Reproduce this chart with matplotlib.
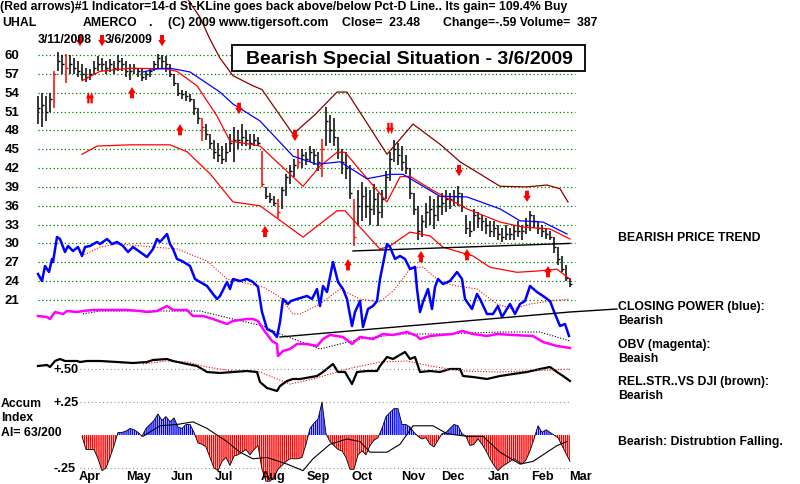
import numpy as np
import matplotlib
matplotlib.use("Agg")
import matplotlib.pyplot as plt
from matplotlib.patches import Rectangle

plt.rcParams["font.family"] = ["Liberation Sans", "DejaVu Sans"]
plt.rcParams["hatch.linewidth"] = 1.0

# ---- UHAL bars, one bar per ~2 trading days (3/11/2008 .. 3/6/2009)
hi = [53.5, 54.0, 53.5, 54.0, 57.5, 60.5, 60.0, 60.2, 60.0, 59.5,
      59.0, 58.5, 58.0, 57.8, 59.0, 59.8, 59.5, 59.0, 59.3, 59.0,
      60.0, 59.5, 59.0, 58.5, 58.5, 58.0, 57.8, 57.5, 58.0, 59.0,
      60.2, 60.0, 59.8, 58.5, 57.0, 55.5, 54.5, 54.3, 53.8, 53.0,
      51.5, 50.0, 49.0, 47.5, 46.5, 46.0, 45.5, 46.0, 47.5, 48.5,
      48.0, 49.0, 48.0, 47.5, 47.5, 47.0, 44.7, 39.0, 38.0, 37.5,
      37.0, 39.0, 41.0, 42.5, 43.5, 45.0, 45.0, 44.5, 45.5, 45.0,
      44.5, 46.6, 51.7, 50.5, 50.0, 47.0, 45.0, 44.5, 42.5, 37.0,
      38.5, 39.8, 39.0, 38.5, 39.5, 38.0, 38.5, 41.5, 44.5, 46.5,
      46.0, 45.5, 44.0, 42.0, 38.0, 36.0, 34.5, 36.5, 37.5, 37.0,
      37.5, 38.0, 38.5, 38.0, 38.5, 39.1, 38.0, 34.5, 33.5, 35.5,
      35.0, 34.5, 34.0, 33.5, 33.5, 33.0, 32.5, 33.0, 32.5, 33.0,
      33.5, 33.0, 34.0, 35.2, 34.5, 33.5, 33.0, 32.5, 32.0, 31.0,
      29.5, 28.0, 26.5, 24.5]
lo = [49.0, 48.5, 49.5, 51.0, 51.5, 57.5, 57.0, 55.5, 57.0, 57.0,
      56.5, 56.0, 55.7, 56.0, 57.0, 57.5, 57.5, 57.0, 57.3, 57.0,
      57.5, 57.5, 56.5, 56.0, 57.0, 56.5, 55.8, 56.0, 56.5, 57.5,
      58.0, 58.0, 57.3, 56.5, 55.0, 53.5, 53.0, 52.7, 52.5, 50.5,
      49.0, 46.3, 46.5, 45.0, 43.5, 43.0, 42.7, 43.0, 44.5, 43.0,
      45.0, 45.5, 45.5, 45.0, 45.5, 45.5, 39.0, 37.0, 36.5, 36.0,
      34.0, 35.5, 37.5, 39.5, 40.5, 42.0, 42.0, 42.5, 43.0, 42.5,
      41.5, 40.6, 45.5, 46.0, 45.5, 43.5, 41.0, 40.3, 37.0, 29.6,
      33.0, 33.5, 34.0, 33.0, 34.5, 32.8, 34.0, 37.0, 40.0, 43.0,
      42.5, 41.5, 41.0, 37.0, 34.5, 30.5, 31.0, 32.5, 33.0, 32.3,
      33.5, 34.5, 35.0, 35.5, 36.0, 36.0, 35.0, 31.5, 31.0, 32.0,
      32.5, 32.0, 31.5, 31.0, 31.0, 30.5, 30.2, 30.5, 30.5, 30.5,
      31.0, 30.5, 31.5, 32.0, 32.5, 31.5, 31.0, 30.7, 30.5, 28.5,
      26.5, 25.5, 24.0, 23.0]
close = [51.5, 52.0, 51.0, 53.0, 57.0, 59.0, 58.5, 58.0, 58.5, 58.0,
         57.5, 57.0, 56.5, 57.0, 58.0, 58.5, 58.5, 58.0, 58.5, 58.0,
         59.0, 58.5, 57.5, 57.5, 58.0, 57.5, 56.5, 57.0, 57.5, 58.5,
         59.5, 59.0, 58.5, 57.0, 55.5, 54.0, 53.8, 53.5, 53.0, 51.5,
         50.0, 48.5, 47.5, 46.0, 44.5, 44.0, 43.5, 44.5, 46.0, 46.5,
         46.5, 47.0, 46.5, 46.0, 46.5, 46.0, 39.5, 37.5, 37.0, 36.5,
         35.0, 38.5, 40.5, 41.5, 42.5, 43.0, 44.0, 43.5, 44.5, 44.0,
         43.0, 45.0, 49.5, 48.0, 47.0, 44.5, 43.0, 42.0, 38.0, 31.0,
         36.0, 37.5, 36.0, 35.5, 37.0, 35.0, 37.0, 40.5, 43.5, 45.0,
         44.0, 43.0, 42.0, 38.0, 35.5, 32.0, 33.5, 35.0, 35.5, 34.5,
         36.0, 36.5, 37.0, 37.0, 37.5, 38.0, 36.0, 32.5, 32.0, 34.5,
         34.0, 33.5, 33.0, 32.0, 32.5, 31.5, 31.0, 31.5, 31.5, 32.0,
         32.0, 32.0, 33.0, 34.5, 33.5, 32.5, 32.0, 31.5, 31.0, 29.5,
         27.5, 26.0, 24.5, 23.48]
red_bars = [4, 7, 41, 56, 60, 65, 71, 79]

# bands: 21-d average (red), lower band (red), upper band (dark red), 50-d average (blue)
ma_x = [11, 15.5, 23, 31.75, 34.75, 39.75, 44.75, 48, 53, 55.5, 66.25, 70.5,
        74.75, 76.75, 87.25, 90.5, 93, 98, 107.25, 115.5, 121.25, 128, 133]
ma = [55.9, 57.4, 57.9, 57.8, 57.4, 55.1, 50.3, 46.3, 45.8, 45.5, 39.1, 42.3,
      44.5, 44.5, 36.6, 40.6, 40.7, 38.7, 35.5, 33.4, 32.6, 32.3, 30.7]
lb_x = [11, 14.75, 23, 33, 37.25, 43, 48.75, 55.5, 66.25, 70.5, 74.75, 76.75,
        85.5, 88, 93, 98, 101.25, 108.75, 113, 119.75, 124.75, 129.75, 133]
lb = [44.2, 45.5, 45.7, 45.7, 44.6, 41.1, 36.6, 36.0, 31.0, 33.1, 35.2, 35.2,
      29.1, 29.6, 31.8, 31.2, 29.4, 28.0, 26.2, 25.4, 25.6, 25.9, 24.3]
ub_x = [36.75, 40.5, 43, 45.5, 48.75, 53.75, 56, 63.75, 69.25, 74.75, 77.25,
        87.25, 93.75, 100.5, 105.5, 115.5, 122.25, 127.25, 130.5, 132.5]
ub = [69.5, 66.0, 62.5, 59.5, 56.7, 55.1, 54.5, 47.4, 50.5, 54.1, 54.1,
      44.2, 49.0, 45.8, 43.0, 39.1, 39.0, 39.3, 38.7, 36.6]
ma50_x = [26.25, 29.75, 33, 38, 45.5, 48.75, 55.5, 63.75, 69.75, 75.5, 82.25,
          88, 91.25, 100.5, 107.25, 115.5, 120.5, 126.25, 132.25]
ma50 = [57.3, 57.8, 57.9, 57.3, 54.1, 52.2, 49.5, 43.9, 42.6, 43.0, 40.3,
        41.0, 41.0, 37.5, 37.4, 35.5, 33.6, 33.4, 31.5]
support_x = [78.75, 133]
support = [28.8, 30.0]
price_levels = [60, 57, 54, 51, 48, 45, 42, 39, 36, 33, 30, 27, 24, 21]

# signal arrows (bar position, price at arrow tip)
up_x = [13, 23.5, 35.5, 56.75, 77.5, 95.75, 107.25, 127.5]
up_tip = [54.1, 54.9, 49.0, 32.8, 27.5, 28.8, 29.1, 26.4]
down_x = [10.5, 16, 31, 50.25, 64.25, 88, 105.25, 122.25]
down_tip = [61.4, 61.4, 61.4, 50.6, 46.3, 47.4, 40.7, 36.6]
double_arrows = [13, 88]

# Closing Power (no scale shown)
cp_x = [0, 1, 1.75, 2.75, 3.5, 3.75, 4.75, 5.5, 6.75, 7.5, 8.75, 10, 11, 11.75,
        13, 14.75, 15.5, 17.25, 18.5, 19.75, 21.25, 22.5, 23.75, 25.5, 27.25,
        28.75, 29.75, 30.5, 32.25, 33, 33.75, 34.75, 36, 38, 39.25, 40.5, 42.25,
        43.75, 44.75, 45.5, 47.25, 48, 48.75, 50.5, 52.25, 53.75, 55, 56, 57.25,
        58.75, 59.75, 60.5, 61.25, 62.5, 63.25, 64.75, 67.25, 68.5, 69.75, 70.5,
        71.25, 72.25, 73.75, 75, 76.25, 77.25, 78.5, 79.25, 80.5, 81.25, 82.5,
        83.75, 84.75, 85.5, 87.25, 88, 89.25, 90.5, 91.75, 93, 94.25, 94.75,
        95.5, 96.25, 97.5, 98.5, 99.25, 100, 101.25, 103, 104.75, 106, 106.75,
        108.5, 109.75, 110.5, 112.25, 113.75, 115, 116, 118, 119.25, 120.5,
        121.75, 123, 124.75, 126.25, 128, 129.25, 130.5, 131.75, 132.75]
cp = [70, 63, 78, 72, 85, 82, 107, 105, 92, 98, 93, 97, 88, 97, 98, 102, 100,
      105, 100, 102, 98, 92, 97, 92, 87, 95, 105, 102, 110, 100, 95, 85, 83,
      78, 65, 62, 58, 50, 45, 48, 62, 55, 65, 63, 65, 62, 57, 32, 15, 12, 7,
      22, 45, 40, 43, 45, 48, 45, 55, 38, 58, 52, 82, 62, 55, 45, 18, 32, 43,
      17, 35, 38, 43, 65, 100, 97, 85, 88, 85, 75, 77, 55, 32, 42, 55, 35, 57,
      65, 60, 63, 72, 65, 45, 35, 50, 45, 30, 30, 38, 27, 40, 30, 40, 43, 58,
      52, 48, 43, 30, 18, 20, 8]
cp_ma_x = [11, 15.5, 19.75, 28.75, 34.75, 42.25, 47.25, 56.25, 60.5, 63.75,
           65.5, 70.5, 75.5, 80.5, 85.5, 89.25, 93, 96.25, 100.5, 104.75,
           109.75, 114.75, 118.75, 123, 128, 133]
cp_ma = [88, 97, 100, 97, 95, 83, 65, 57, 47, 30, 30, 40, 55, 45, 42, 55, 75,
         77, 62, 58, 55, 40, 35, 40, 43, 45]
cp_trend_x = [60.5, 133, 144.75]
cp_trend = [7, 32, 35]

# OBV (no scale shown)
obv_x = [0, 2.25, 3, 4.25, 6.25, 7.25, 9.75, 11.25, 13.75, 18, 22.25, 25.5,
         27.25, 29.75, 32.25, 33.75, 37.25, 38.75, 41.25, 43.75, 47.25, 48.75,
         52.25, 53.75, 55, 56.25, 58.5, 59.75, 60, 61.25, 63, 64.75, 67.25,
         69.75, 71.25, 73, 76.25, 78.5, 80.5, 83.75, 86.25, 88.75, 92.25, 94.75,
         95.5, 98, 100.5, 103.75, 106, 108.75, 112.25, 114.75, 118.75, 123.75,
         126.25, 129.75, 133]
obv = [43, 42, 40, 47, 45, 48, 47, 48, 49, 49, 49, 48, 47, 48, 53, 49, 49, 43,
       43, 40, 35, 38, 40, 40, 38, 30, 18, 15, 3, 8, 10, 15, 15, 13, 20, 24, 22,
       15, 22, 20, 25, 24, 27, 23, 20, 23, 24, 25, 28, 25, 23, 25, 24, 23, 17,
       13, 11]
obv_ma_x = [11.25, 15.5, 40.5, 48.75, 56.25, 60.5, 70.5, 80.5, 90.5, 100.5,
            115.5, 125.5, 133]
obv_ma = [45, 48, 48, 40, 33, 25, 10, 20, 25, 25, 27, 27, 18]

# Relative strength vs DJI (no scale shown)
rs_x = [0, 2.25, 3, 4.25, 5.5, 6.75, 9.75, 10.5, 12.25, 15.5, 19.75, 23.75,
        27.25, 28.75, 32.25, 33.75, 37.25, 39.75, 42.25, 45.5, 48.75, 52.25,
        54.75, 55.5, 57.25, 59.75, 60.5, 62.25, 63.75, 65.5, 69.75, 71.25,
        73.75, 75, 76.75, 78.5, 79.75, 82.25, 84.75, 85.5, 87.25, 88.75, 90,
        91.75, 93, 94.25, 95.5, 98, 100.5, 103, 105.5, 106.25, 108.75, 112.25,
        115.5, 118.75, 122.25, 125.5, 128, 129.75, 131.25, 133]
rs = [33, 34, 32, 38, 40, 38, 38, 37, 38, 38, 37, 36, 37, 39, 40, 38, 35, 33,
      27, 26, 27, 28, 27, 17, 11, 8, 13, 18, 20, 20, 23, 27, 35, 27, 27, 15,
      27, 28, 28, 33, 42, 40, 43, 47, 40, 42, 27, 28, 27, 30, 30, 23, 22, 20,
      23, 25, 27, 30, 32, 27, 23, 18]
rs_ma_x = [26.25, 32.25, 37.25, 42.25, 48.75, 55.5, 59.75, 63, 68.75, 77.25,
           85.5, 92.25, 98, 106.25, 114.75, 123, 133]
rs_ma = [35, 38, 37, 32, 28, 27, 20, 15, 20, 30, 37, 38, 33, 28, 27, 28, 30]

# Accumulation Index
ai_start = 11
ai = [-0.01, -0.11, -0.11, -0.11, -0.18, -0.27, -0.25, -0.17, -0.08, 0.02,
      0.02, 0.03, 0.05, 0.04, 0.02, -0.01, 0.05, 0.08, 0.11, 0.16,
      0.11, 0.14, 0.10, 0.13, 0.06, 0.05, 0.08, 0.08, 0.02, -0.06,
      -0.07, -0.09, -0.17, -0.25, -0.27, -0.20, -0.17, -0.23, -0.16, -0.15,
      -0.13, -0.11, -0.15, -0.11, -0.08, -0.26, -0.35, -0.35, -0.32, -0.26,
      -0.23, -0.20, -0.18, -0.18, -0.18, -0.17, -0.07, 0.05, 0.09, 0.12,
      0.25, 0.01, -0.05, -0.08, -0.11, -0.12, -0.17, -0.26, -0.26, -0.15,
      -0.12, -0.15, -0.08, -0.04, -0.02, 0.05, 0.14, 0.17, 0.20, 0.20,
      0.08, 0.08, 0.06, 0.02, -0.01, -0.03, -0.02, -0.07, -0.09, -0.04,
      0.01, 0.02, 0.05, 0.08, 0.07, 0.01, -0.01, -0.08, -0.07, -0.03,
      -0.07, -0.12, -0.18, -0.23, -0.27, -0.24, -0.22, -0.20, -0.18, -0.20,
      -0.22, -0.19, -0.12, -0.03, 0.07, 0.02, 0.04, 0.02, 0.00, -0.02,
      -0.08, -0.14, -0.20]
ai_ma_x = [26.25, 30.5, 34.75, 38.75, 42.25, 47.25, 50.5, 53.75, 57.25, 62.25,
           66.25, 68.75, 73, 77.25, 80.5, 83, 87.25, 90.5, 93.75, 98.75,
           102.25, 107.25, 111.25, 115.5, 120.5, 123.75, 127.25, 129.75, 132.25]
ai_ma = [-0.01, 0.07, 0.08, 0.10, 0.05, -0.05, -0.13, -0.18, -0.17, -0.22,
         -0.27, -0.18, -0.07, -0.03, -0.05, -0.13, -0.13, -0.07, 0.07, 0.07,
         0.01, -0.01, -0.01, -0.13, -0.22, -0.20, -0.13, -0.08, -0.05]
ai_levels = [0.5, 0.25, -0.25]
ai_labels = ["+.50", "+.25", "-.25"]

months = ["Apr", "May", "Jun", "Jul", "Aug", "Sep", "Oct", "Nov", "Dec",
          "Jan", "Feb", "Mar"]
month_pos = [13, 25.25, 36, 46.5, 58.75, 70, 81, 93.75, 103.75, 115.25, 126,
             135.5]

W, H = 800, 485
XLIM = (-9.5, 190.5)          # bar 0 sits 38 px in, 4 px per bar
ARROW_LEN = 1.8
FS = 8.8


def fx(px):
    return px / W


def fy(py):
    return 1 - py / H


def layer(fig, ylim):
    ax = fig.add_axes([0, 0, 1, 1])
    ax.set_xlim(*XLIM)
    ax.set_ylim(*ylim)
    ax.axis("off")
    return ax


def arrow(ax, x, tip, up, width=1.0):
    tail = tip - ARROW_LEN if up else tip + ARROW_LEN
    style = f"simple,head_length=0.45,head_width={0.55 * width},tail_width={0.28 * width}"
    ax.annotate("", xy=(x, tip), xytext=(x, tail),
                arrowprops=dict(arrowstyle=style, color="red", lw=0,
                                shrinkA=0, shrinkB=0))


def main():
    fig = plt.figure(figsize=(W / 100, H / 100), dpi=100)
    fig.patch.set_facecolor("white")
    bold = dict(fontweight="bold", color="black")

    # ---- price panel
    ax = layer(fig, (-8.31, 68.92))
    ax.hlines(price_levels, 0, 134.3, colors="#008000", lw=0.9,
              linestyles=(0, (1, 2)))
    for lvl in price_levels:
        ax.text(-8.3, lvl, str(lvl), ha="left", va="center", fontsize=9.5, **bold)
    x = np.arange(len(hi))
    colors = ["red" if i in red_bars else "black" for i in x]
    ax.vlines(x, lo, hi, colors=colors, lw=1.1)
    ax.hlines(close, x, x + 0.5, colors=colors, lw=1.0)
    ax.plot(ub_x, ub, color="#8b0000", lw=0.9)
    ax.plot(ma_x, ma, color="#ff0000", lw=0.9)
    ax.plot(lb_x, lb, color="#ff0000", lw=0.9)
    ax.plot(ma50_x, ma50, color="#0000ff", lw=0.9)
    ax.plot(support_x, support, color="black", lw=1.0)
    for xa, tip in zip(up_x, up_tip):
        if xa in double_arrows:
            arrow(ax, xa - 0.4, tip, True, 0.6)
            arrow(ax, xa + 0.4, tip, True, 0.6)
        else:
            arrow(ax, xa, tip, True)
    for xa, tip in zip(down_x, down_tip):
        if xa in double_arrows:
            arrow(ax, xa - 0.4, tip, False, 0.6)
            arrow(ax, xa + 0.4, tip, False, 0.6)
        else:
            arrow(ax, xa, tip, False)

    # ---- Closing Power
    ax_cp = layer(fig, (-140, 345))
    ax_cp.plot(cp_ma_x, cp_ma, color="red", lw=0.8, linestyle=(0, (1, 1.5)))
    ax_cp.plot(cp_x, cp, color="#0000ff", lw=1.8)
    ax_cp.plot(cp_trend_x, cp_trend, color="black", lw=1.0)

    # ---- OBV
    ax_obv = layer(fig, (-125, 360))
    ax_obv.plot(obv_ma_x, obv_ma, color="black", lw=0.8, linestyle=(0, (1, 1.5)))
    ax_obv.plot(obv_x, obv, color="#ff00ff", lw=1.8)

    # ---- Relative strength
    ax_rs = layer(fig, (-85, 400))
    ax_rs.plot(rs_ma_x, rs_ma, color="red", lw=0.8, linestyle=(0, (1, 1.5)))
    ax_rs.plot(rs_x, rs, color="black", lw=1.6)

    # ---- Accumulation index
    ax_ai = layer(fig, (-0.371, 3.303))
    ax_ai.hlines(ai_levels, 10.5, 133, colors="gray", lw=0.8,
                 linestyles=(0, (0.8, 2.6)))
    for lvl, lab in zip(ai_levels, ai_labels):
        ax_ai.text(3.8, lvl, lab, ha="left", va="center", fontsize=9.2, **bold)
    ai_x = np.arange(ai_start, ai_start + len(ai))
    ai_v = np.array(ai)
    ax_ai.fill_between(ai_x, 0, ai_v, where=ai_v >= 0, interpolate=True,
                       facecolor="white", edgecolor="#0000ff", hatch="||||||||", lw=0)
    ax_ai.fill_between(ai_x, 0, ai_v, where=ai_v <= 0, interpolate=True,
                       facecolor="white", edgecolor="#ff0000", hatch="||||||||", lw=0)
    ax_ai.plot(ai_x, ai_v, color="black", lw=0.6)
    ax_ai.plot(ai_ma_x, ai_ma, color="black", lw=0.8)
    for m, p in zip(months, month_pos):
        ax_ai.text(p, -0.31, m, ha="center", va="center", fontsize=9.2, **bold)

    # ---- header and labels
    fig.text(0, fy(7), "(Red arrows)#1 Indicator=14-d St-KLine goes back above/below "
             "Pct-D Line.. Its gain= 109.4% Buy", va="center", fontsize=FS, **bold)
    for px, s in [(2, "UHAL"), (83, "AMERCO"), (148, "."),
                  (168, "(C) 2009 www.tigersoft.com"), (342, "Close=  23.48"),
                  (443, "Change=-.59 Volume=  387")]:
        fig.text(fx(px), fy(23), s, va="center", fontsize=FS, **bold)
    fig.text(fx(38), fy(40), "3/11/2008", va="center", fontsize=FS, **bold)
    fig.text(fx(105), fy(40), "3/6/2009", va="center", fontsize=FS, **bold)

    fig.patches.append(Rectangle((fx(232), fy(72)), fx(353), 26 / H,
                                 transform=fig.transFigure, facecolor="white",
                                 edgecolor="black", lw=1.3, zorder=5))
    fig.text(fx(409), fy(59), "Bearish Special Situation - 3/6/2009", ha="center",
             va="center", fontsize=14, zorder=6, **bold)

    for py, s in [(238, "BEARISH PRICE TREND"), (307, "CLOSING POWER (blue):"),
                  (321, "Bearish"), (345, "OBV (magenta):"), (359, "Beaish"),
                  (382, "REL.STR..VS DJI (brown):"), (396, "Bearish"),
                  (442, "Bearish: Distrubtion Falling.")]:
        fig.text(fx(618), fy(py), s, va="center", fontsize=FS, **bold)
    for py, s in [(404, "Accum"), (418, "Index"), (433, "AI= 63/200")]:
        fig.text(fx(1), fy(py), s, va="center", fontsize=FS, **bold)

    fig.savefig("out.png", dpi=100)


if __name__ == "__main__":
    main()
